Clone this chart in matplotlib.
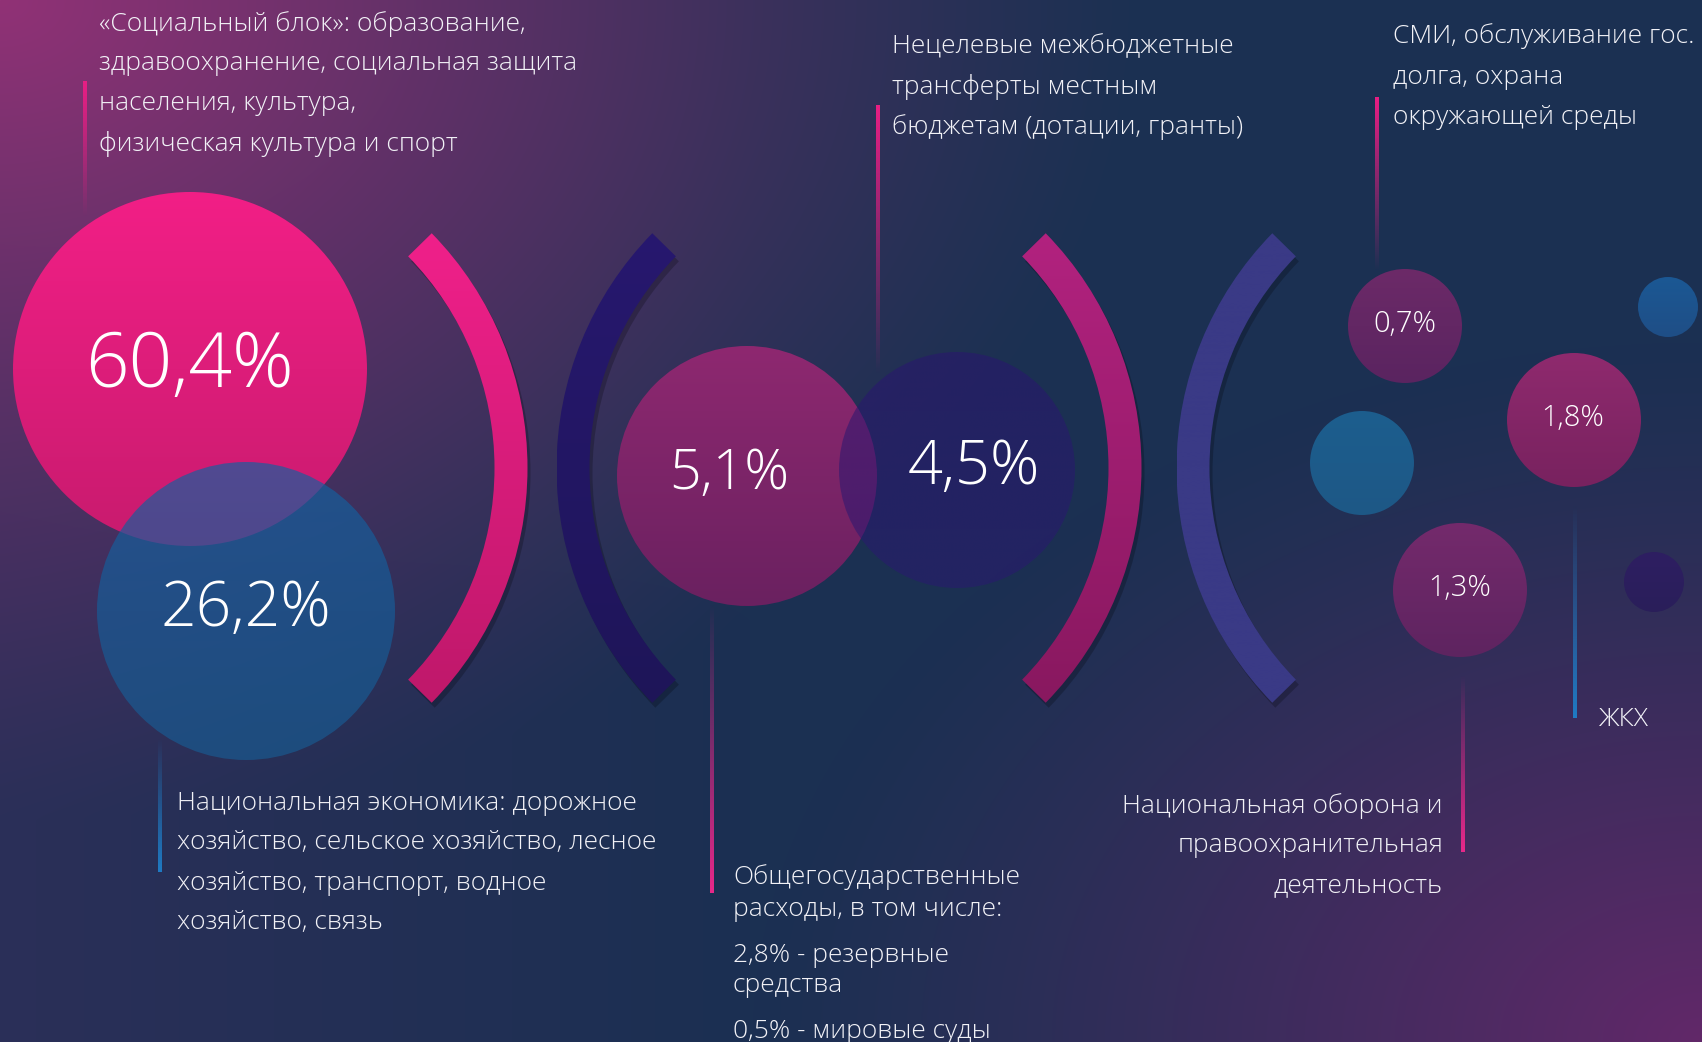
import numpy as np
import matplotlib
matplotlib.use("Agg")
import matplotlib.pyplot as plt
from matplotlib.patches import Circle, Wedge
from matplotlib.colors import to_rgb

plt.rcParams["font.family"] = ["Open Sans", "DejaVu Sans"]

W, H = 1702, 1042

# --- data -------------------------------------------------------------
share_labels = ["60,4%", "26,2%", "5,1%", "4,5%", "0,7%", "1,8%", "1,3%"]

social_text = ["«Социальный блок»: образование,",
               "здравоохранение, социальная защита",
               "населения, культура,",
               "физическая культура и спорт"]
transfer_text = ["Нецелевые межбюджетные",
                 "трансферты местным",
                 "бюджетам (дотации, гранты)"]
smi_text = ["СМИ, обслуживание гос.",
            "долга, охрана",
            "окружающей среды"]
economy_text = ["Национальная экономика: дорожное",
                "хозяйство, сельское хозяйство, лесное",
                "хозяйство, транспорт, водное",
                "хозяйство, связь"]
general_text = ["Общегосударственные",
                "расходы, в том числе:",
                "2,8% - резервные",
                "средства",
                "0,5% - мировые суды"]
defence_text = ["Национальная оборона и",
                "правоохранительная",
                "деятельность"]
housing_text = ["ЖКХ"]

# --- layout (pixels, y down) -----------------------------------------
bub_x = [190, 246, 747, 957, 1405, 1574, 1460]
bub_y = [369, 611, 476, 470, 326, 420, 590]
bub_r = [177, 149, 130, 118, 57, 67, 67]
bub_top = ["#F21F86", "#1560A0", "#8E2870", "#2A1670", "#6C2A68", "#8F2A6E", "#742A6C"]
bub_bot = ["#C81B6E", "#1A5A90", "#6A2160", "#2A1A72", "#5A2460", "#78225F", "#5E2460"]
bub_alpha = [1, 0.69, 1, 0.55, 1, 1, 1]
lab_x = [190, 246, 729, 974, 1405, 1573, 1460]
lab_size = [55, 45, 40, 44, 21, 21, 21]

deco_x = [1362, 1668, 1654]
deco_y = [463, 307, 582]
deco_r = [52, 30, 30]
deco_top = ["#1C5E8E", "#1B5894", "#2E1F62"]
deco_bot = ["#1E5886", "#1F4E86", "#2A1E5A"]

arc_cx = [192, 892, 806, 1512]
arc_top = ["#F0208A", "#27186F", "#B2227F", "#3A3A86"]
arc_bot = ["#BE186A", "#1E1558", "#88185F", "#3A3A86"]
arc_R, arc_w, arc_half = 335.5, 33, 44.4


def vgrad(c_top, c_bot, a_top=1.0, a_bot=1.0, n=256):
    t = np.linspace(0, 1, n)[:, None]
    rgb = np.array(to_rgb(c_top)) * (1 - t) + np.array(to_rgb(c_bot)) * t
    a = a_top * (1 - t) + a_bot * t
    return np.concatenate([rgb, a], axis=1)[:, None, :]


def fill_patch(ax, patch, ext, c_top, c_bot, z, alpha=1.0):
    patch.set_facecolor("none")
    patch.set_edgecolor("none")
    ax.add_patch(patch)
    x0, x1, y0, y1 = ext
    im = ax.imshow(vgrad(c_top, c_bot), extent=[x0, x1, y1, y0], origin="upper",
                   aspect="auto", zorder=z, alpha=alpha, interpolation="bilinear")
    im.set_clip_path(patch)


def vline(ax, x, y0, y1, color, a_top, a_bot):
    ax.imshow(vgrad(color, color, a_top, a_bot), extent=[x - 2, x + 2, y1, y0],
              origin="upper", aspect="auto", zorder=2, interpolation="bilinear")


fig = plt.figure(figsize=(W / 100, H / 100), dpi=100)
ax = fig.add_axes([0, 0, 1, 1])

# background
yy, xx = np.mgrid[0:H, 0:W].astype(float)
d1 = np.sqrt((xx / 1150) ** 2 + (yy / 820) ** 2)
d2 = np.sqrt(((W - xx) / 950) ** 2 + ((H - yy) / 700) ** 2)
w1 = np.clip(1 - d1, 0, 1) ** 1.2
w2 = np.clip(1 - d2, 0, 1) ** 1.2
w3 = np.clip(1 - xx / 750, 0, 1) * 0.45 * (1 - w1)
base = np.array([27, 48, 82]) / 255
c1 = np.array([145, 50, 118]) / 255
c2 = np.array([98, 40, 105]) / 255
c3 = np.array([62, 46, 96]) / 255
bg = (base + (c1 - base) * w1[..., None] + (c2 - base) * w2[..., None]
      + (c3 - base) * w3[..., None])
ax.imshow(np.clip(bg, 0, 1), extent=[0, W, H, 0], origin="upper", aspect="auto", zorder=0)

# connector lines
vline(ax, 85, 81, 217, "#E91E84", 1, 0)
vline(ax, 878, 105, 375, "#E91E84", 1, 0)
vline(ax, 1377, 97, 271, "#E91E84", 1, 0)
vline(ax, 160, 738, 872, "#1F7BC4", 0, 1)
vline(ax, 712, 603, 893, "#E8288A", 0, 1)
vline(ax, 1463, 675, 852, "#E8288A", 0, 1)
vline(ax, 1575, 505, 718, "#1F7BC4", 0, 1)

# arcs
for i, cx in enumerate(arc_cx):
    cy = 468
    if i % 2 == 0:
        t1, t2 = -arc_half, arc_half
    else:
        t1, t2 = 180 - arc_half, 180 + arc_half
    sh = Wedge((cx + 3, cy + 5), arc_R, t1, t2, width=arc_w, facecolor="black",
               edgecolor="none", alpha=0.22, zorder=3)
    ax.add_patch(sh)
    wd = Wedge((cx, cy), arc_R, t1, t2, width=arc_w)
    fill_patch(ax, wd, (cx - arc_R, cx + arc_R, 230, 710), arc_top[i], arc_bot[i], 4)

# bubbles
for x, y, r, ct, cb in zip(deco_x, deco_y, deco_r, deco_top, deco_bot):
    fill_patch(ax, Circle((x, y), r), (x - r, x + r, y - r, y + r), ct, cb, 5)

for i in range(len(share_labels)):
    x, y, r = bub_x[i], bub_y[i], bub_r[i]
    fill_patch(ax, Circle((x, y), r), (x - r, x + r, y - r, y + r),
               bub_top[i], bub_bot[i], 5 + i * 0.1, alpha=bub_alpha[i])
    ax.text(lab_x[i], y - 2, share_labels[i], color="white", fontsize=lab_size[i],
            fontweight="light", ha="center", va="center", zorder=10)

# text blocks
txt = dict(color="#F2F2F7", fontsize=19, fontweight="light", va="center", zorder=10)


def block(lines, x, ys, ha="left"):
    for s, y in zip(lines, ys):
        ax.text(x, y, s, ha=ha, **txt)


block(social_text, 99, [24, 64, 104, 144])
block(transfer_text, 892, [47, 87, 127])
block(smi_text, 1393, [36, 77, 117])
block(economy_text, 177, [803, 843, 883, 923])
block(general_text, 733, [877, 909, 955, 986, 1031])
block(defence_text, 1443, [806, 846, 886], ha="right")
block(housing_text, 1598, [719])

ax.set_xlim(0, W)
ax.set_ylim(H, 0)
ax.axis("off")
fig.savefig("out.png", dpi=100)
